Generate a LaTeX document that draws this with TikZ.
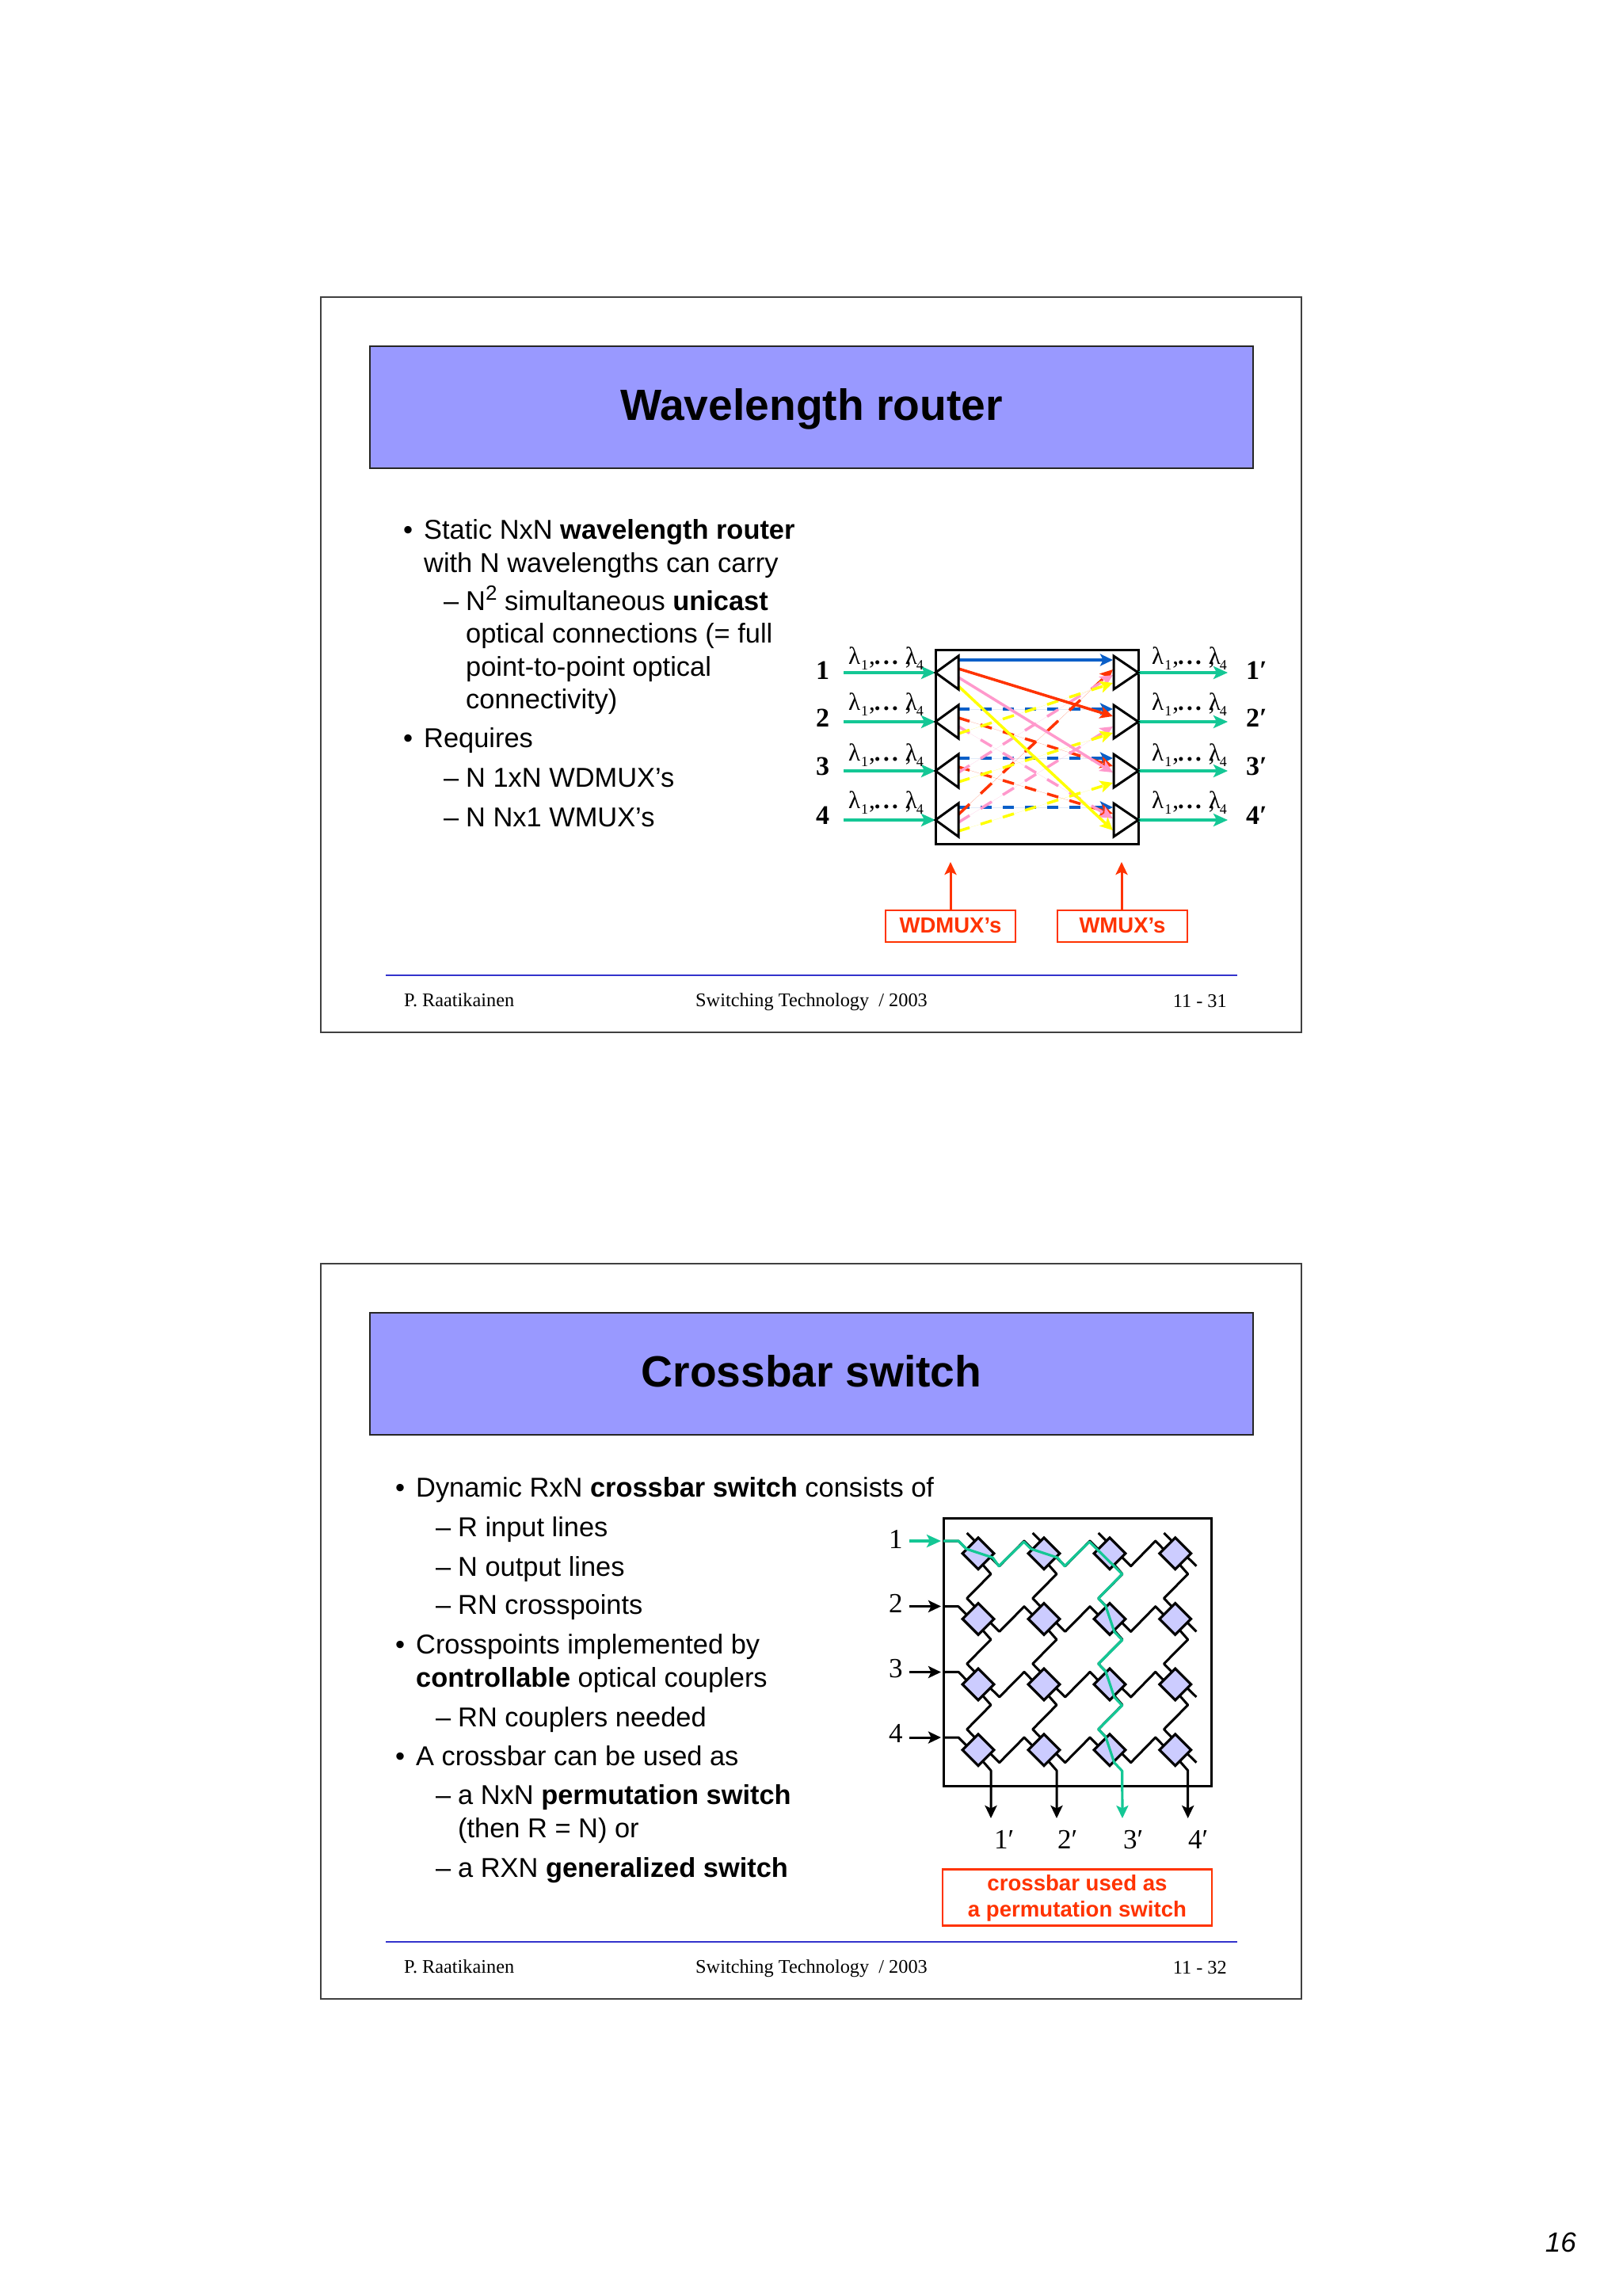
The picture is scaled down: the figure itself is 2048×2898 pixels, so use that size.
\documentclass[tikz,border=0pt]{standalone}
\usepackage{fontspec}
\setmainfont{Liberation Sans}
\newfontfamily\tms{Liberation Serif}
\usetikzlibrary{arrows.meta,calc,shapes.geometric}
\definecolor{grn}{HTML}{14C795}
\definecolor{blu}{HTML}{0A5FC8}
\definecolor{rd}{HTML}{FF3300}
\definecolor{pnk}{HTML}{FF99CC}
\definecolor{ylw}{HTML}{FFFF00}
\definecolor{ttl}{HTML}{9999FF}
\definecolor{xpf}{HTML}{CCCCFF}
\definecolor{ftl}{HTML}{3333CC}
\definecolor{frm}{HTML}{404040}
\newcommand{\fsz}[1]{\fontsize{#1}{#1}\selectfont}
\newcommand{\lamsub}[1]{\raisebox{-7pt}{\fsz{18}#1}}
\newcommand{\lamlab}{{\tms\fsz{31}λ\kern1pt\lamsub{1}\kern1pt,\kern-1pt\textbf{.\kern3.3pt.\kern3.3pt.}\kern9pt\rlap{,}λ\kern-1pt\lamsub{4}}}
\newcommand{\prm}{\char"2032}
\tikzset{
  txt/.style={anchor=base west,inner sep=0pt,font=\fsz{34.4}},
  ftr/.style={anchor=base west,inner sep=0pt,font=\tms\fsz{24.3}},
  ftrr/.style={anchor=base east,inner sep=0pt,font=\tms\fsz{24.3}},
  ttlbox/.style={fill=ttl,draw=black!85,line width=1.5pt},
  ttltxt/.style={anchor=base,inner sep=0pt,font=\bfseries\fsz{55.2}},
  frmbox/.style={draw=frm,line width=2pt,fill=white},
  ftline/.style={draw=ftl,line width=2pt},
  tip/.style={-{Stealth[length=16pt,width=15pt,inset=3.5pt]}},
  gtip/.style={-{Stealth[length=18pt,width=16pt,inset=4pt]},draw=grn,line width=3.5pt},
  wl/.style={line width=3.5pt},
  tri/.style={draw=black,line width=3pt,fill=white,line join=miter},
  numb/.style={anchor=base west,inner sep=0pt,font=\tms\bfseries\fsz{34}},
  num/.style={anchor=base west,inner sep=0pt,font=\tms\fsz{35}},
  lam/.style={anchor=base west,inner sep=0pt},
  rbox/.style={draw=rd,line width=2.8pt,fill=white},
  rtxt/.style={anchor=base,inner sep=0pt,text=rd,font=\bfseries\fsz{27.5}},
  xp/.style={diamond,draw=black,fill=xpf,line width=3.2pt,minimum width=41pt,minimum height=41pt,inner sep=0pt},
  wire/.style={draw=black,line width=3pt,line join=round},
  gw/.style={draw=grn,line width=3.2pt,line join=round},
}
\begin{document}
\begin{tikzpicture}[x=1pt,y=-1pt]
\useasboundingbox (0,0) rectangle (2048,2898);
% ---------- slide frames
\draw[frmbox] (405,375) rectangle (1643,1303);
\draw[frmbox] (405,1595) rectangle (1643,2523);
\draw[ttlbox] (467,437) rectangle (1582,591);
\draw[ttlbox] (467,1657) rectangle (1582,1811);
\node[ttltxt] (t1) at (1024.5,530) {Wavelength router};
\node[ttltxt] (t2) at (1024.5,1750) {Crossbar switch};
\coordinate (fa1) at (487,1231); \coordinate (fb1) at (1562,1231);
\coordinate (fa2) at (487,2451); \coordinate (fb2) at (1562,2451);
\draw[ftline] (fa1) -- (fb1);
\draw[ftline] (fa2) -- (fb2);
\node[ftr] (f11) at (510,1270) {P. Raatikainen};
\node[ftr] (f12) at (878,1270) {Switching Technology \ / 2003};
\node[ftrr] (f13) at (1549,1271) {11 - 31};
\node[ftr] (f21) at (510,2490) {P. Raatikainen};
\node[ftr] (f22) at (878,2490) {Switching Technology \ / 2003};
\node[ftrr] (f23) at (1549,2491) {11 - 32};
\node[anchor=base east,inner sep=0pt,font=\itshape\fsz{35}] (pg) at (1990,2842) {16};
% ---------- slide 1 text
\node[txt] (a1b) at (509,680) {•};
\node[txt] (a1) at (535,680) {Static NxN \textbf{wavelength router}};
\node[txt] (a2) at (535,722) {with N wavelengths can carry};
\node[txt] (a3d) at (560,770) {–};
\node[txt] (a3) at (588,770) {N\raisebox{13pt}{\fsz{26}2} simultaneous \textbf{unicast}};
\node[txt] (a4) at (588,811) {optical connections (= full};
\node[txt] (a5) at (588,853) {point-to-point optical};
\node[txt] (a6) at (588,894) {connectivity)};
\node[txt] (a7b) at (509,943.5) {•};
\node[txt] (a7) at (535,943.5) {Requires};
\node[txt] (a8d) at (560,993) {–};
\node[txt] (a8) at (588,993) {N 1xN WDMUX’s};
\node[txt] (a9d) at (560,1043) {–};
\node[txt] (a9) at (588,1043) {N Nx1 WMUX’s};
% ---------- slide 2 text
\node[txt] (b1b) at (499,1889.5) {•};
\node[txt] (b1) at (525,1889.5) {Dynamic RxN \textbf{crossbar switch} consists of};
\node[txt] (b2d) at (550,1939.5) {–};
\node[txt] (b2) at (578,1939.5) {R input lines};
\node[txt] (b3d) at (550,1989) {–};
\node[txt] (b3) at (578,1989) {N output lines};
\node[txt] (b4d) at (550,2037.5) {–};
\node[txt] (b4) at (578,2037.5) {RN crosspoints};
\node[txt] (b5b) at (499,2087.5) {•};
\node[txt] (b5) at (525,2087.5) {Crosspoints implemented by};
\node[txt] (b6) at (525,2129) {\textbf{controllable} optical couplers};
\node[txt] (b7d) at (550,2179) {–};
\node[txt] (b7) at (578,2179) {RN couplers needed};
\node[txt] (b8b) at (499,2228.5) {•};
\node[txt] (b8) at (525,2228.5) {A crossbar can be used as};
\node[txt] (b9d) at (550,2277.5) {–};
\node[txt] (b9) at (578,2277.5) {a NxN \textbf{permutation switch}};
\node[txt] (b10) at (578,2319.5) {(then R = N) or};
\node[txt] (b11d) at (550,2369) {–};
\node[txt] (b11) at (578,2369) {a RXN \textbf{generalized switch}};
% ---------- wavelength router
\draw[draw=black,line width=3pt] (1181,820) rectangle (1437,1065);
\foreach \i/\y/\ll/\n in {1/849/838/857,2/911/896.5/917,3/973/960.5/978,4/1035/1020.5/1040}{
  \coordinate (il\i) at (1065,\y);
  \coordinate (ia\i) at (1181,\y);
  \coordinate (oa\i) at (1437,\y);
  \coordinate (ol\i) at (1550,\y);
  \draw[gtip] (il\i) -- (ia\i);
  \draw[gtip] (oa\i) -- (ol\i);
  \node[lam] (ll\i) at (1071,\ll) {\lamlab};
  \node[lam] (lr\i) at (1454,\ll) {\lamlab};
  \node[numb] (nl\i) at (1030,\n) {\i};
  \node[numb] (nr\i) at (1573,\n) {\i\prm};
}
% dashed wavelengths: name/colour/start y/end y
\foreach \n/\c/\ya/\yb in {
  b2/blu/895/895, b3/blu/957/957, b4/blu/1019/1019,
  r2/rd/906/967, r3/rd/968/1027, r4/rd/1028/845,
  p2/pnk/917/1033, p3/pnk/975/852, p4/pnk/1038/917,
  y2/ylw/926/862, y3/ylw/987/925, y4/ylw/1049/988}{
  \pgfmathsetmacro\dl{14*sqrt(1+((\yb-\ya)/195)^2)}
  \coordinate (s\n) at (1210,\ya);
  \coordinate (e\n) at (1405,\yb);
  \draw[wl,tip,draw=\c,fill=\c,dash pattern=on \dl pt off \dl pt] (s\n) -- (e\n);
}
% solid wavelengths of input 1
\foreach \n/\c/\ya/\yb in {b1/blu/833/833, r1/rd/844/904, p1/pnk/855/975, y1/ylw/866/1048}{
  \coordinate (s\n) at (1210,\ya);
  \coordinate (e\n) at (1405,\yb);
  \draw[wl,tip,draw=\c,fill=\c] (s\n) -- (e\n);
}
\foreach \y in {849,911,973,1035}{
  \draw[tri] (1181,\y) -- (1210,\y-21) -- (1210,\y+21) -- cycle;
  \draw[tri,fill=none] (1437,\y) -- (1406,\y-21) -- (1406,\y+21) -- cycle;
}
\draw[rbox] (1118,1149) rectangle (1282,1189);
\draw[rbox] (1335,1149) rectangle (1499,1189);
\node[rtxt] (wd) at (1200,1177) {WDMUX’s};
\node[rtxt] (wm) at (1417,1177) {WMUX’s};
\coordinate (wda) at (1200,1149); \coordinate (wdb) at (1200,1088);
\coordinate (wma) at (1416,1149); \coordinate (wmb) at (1416,1088);
\draw[tip,draw=rd,fill=rd,line width=3pt] (wda) -- (wdb);
\draw[tip,draw=rd,fill=rd,line width=3pt] (wma) -- (wmb);
% ---------- crossbar
\draw[draw=black,line width=3pt] (1191,1916) rectangle (1529,2254);
\foreach \c/\x in {1/1235,2/1318,3/1401,4/1483.7}{
  \foreach \r/\y in {1/1960.7,2/2043.4,3/2126,4/2208.7}{
    \coordinate (d\r\c) at (\x,\y);
  }
}
% horizontal wires
\foreach \r in {1,2,3,4}{
  \foreach \c/\n in {1/2,2/3,3/4}{
    \draw[wire] ($(d\r\c)+(15.3,4.7)$) -- ($(d\r\c)+(26.7,16)$) -- ($(d\r\n)+(-25,-15.7)$) -- ($(d\r\n)+(-14.7,-5.3)$);
  }
  \draw[wire] ($(d\r4)+(15.3,4.7)$) -- ($(d\r4)+(26.7,16)$);
}
% vertical wires
\foreach \c in {1,2,3,4}{
  \draw[wire] ($(d1\c)+(-14.3,-25.7)$) -- ($(d1\c)+(-4.3,-15.7)$);
  \foreach \r/\n in {1/2,2/3,3/4}{
    \draw[wire] ($(d\r\c)+(5.7,14.3)$) -- ($(d\r\c)+(16,26)$) -- ($(d\n\c)+(-14.3,-26)$) -- ($(d\n\c)+(-4.3,-15.7)$);
  }
}
\foreach \c/\x in {1/1251,2/1334,3/1417,4/1499.7}{
  \coordinate (ot\c) at (\x,2295);
  \ifnum\c=3\else
  \draw[wire,tip] ($(d4\c)+(5.7,14.3)$) -- ($(d4\c)+(16,26)$) -- (ot\c);
  \fi
}
\foreach \r/\y/\ny in {1/1945/1954,2/2027.5/2035,3/2110.5/2117.5,4/2193/2199}{
  \coordinate (ia2\r) at (1148,\y);
  \coordinate (ib2\r) at (1188,\y);
  \coordinate (ic2\r) at (1191,\y);
  \node[num] (ni\r) at (1122,\ny) {\r};
}
\foreach \r in {2,3,4}{
  \draw[tip,draw=black,fill=black,line width=3pt] (ia2\r) -- (ib2\r);
  \draw[wire] (ic2\r) -- ($(d\r1)+(-25,-15.7)$) -- ($(d\r1)+(-14.7,-5.3)$);
}
\draw[wire] (ic21) -- ($(d11)+(-25,-15.7)$) -- ($(d11)+(-14.7,-5.3)$);
\foreach \r in {1,2,3,4}{
  \foreach \c in {1,2,3,4}{
    \node[xp] (x\r\c) at (d\r\c) {};
  }
}
% green route
\draw[gtip,line width=3.2pt] (ia21) -- (ib21);
\draw[gw,-{Stealth[length=16pt,width=15pt,inset=3.5pt]}] (ic21) -- ($(d11)+(-25,-15.7)$) -- ($(d11)+(-15,-5.7)$) -- ($(d11)+(18.3,5.3)$) -- ($(d11)+(26,16)$)
  -- ($(d12)+(-25.3,-14.7)$) -- ($(d12)+(-16.3,-5.7)$) -- ($(d12)+(17,5.3)$) -- ($(d12)+(26,16)$)
  -- ($(d13)+(-25.7,-14.7)$) -- ($(d13)+(15.7,26)$)
  -- ($(d23)+(-14.3,-26)$) -- ($(d23)+(-5,-16)$) -- ($(d23)+(5.7,16)$) -- ($(d23)+(15.7,26.6)$)
  -- ($(d33)+(-14.3,-26)$) -- ($(d33)+(-5,-16)$) -- ($(d33)+(5.7,16)$) -- ($(d33)+(15.7,26.6)$)
  -- ($(d43)+(-14.3,-26)$) -- ($(d43)+(-5,-16)$) -- ($(d43)+(5.7,16)$) -- ($(d43)+(15.7,26.6)$) -- (ot3);
\foreach \c/\x/\m in {1/1255/1,2/1335/2,3/1418/3,4/1500/4}{
  \node[num] (no\c) at (\x,2333) {\m\prm};
}
\draw[rbox] (1190,2359.5) rectangle (1530,2430.5);
\node[rtxt,font=\bfseries\fsz{27.6}] (cb1) at (1360,2386) {crossbar used as};
\node[rtxt,font=\bfseries\fsz{27.6}] (cb2) at (1360,2419) {a permutation switch};
\end{tikzpicture}
\end{document}
